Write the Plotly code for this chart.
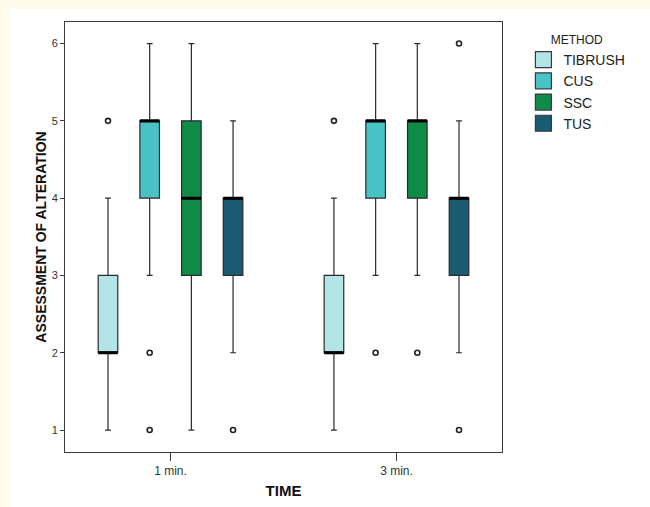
import plotly.graph_objects as go

# ---- data ----
times = ["1 min.", "3 min."]
methods = ["TIBRUSH", "CUS", "SSC", "TUS"]
colors = ["#b3e5e6", "#48c2c7", "#0f8b48", "#1b5b72"]

# one list per method, values for [1 min., 3 min.]
q1_vals = [[2, 2], [4, 4], [3, 4], [3, 3]]
median_vals = [[2, 2], [5, 5], [4, 5], [4, 4]]
q3_vals = [[3, 3], [5, 5], [5, 5], [4, 4]]
lower_vals = [[1, 1], [3, 3], [1, 3], [2, 2]]
upper_vals = [[4, 4], [6, 6], [6, 6], [5, 5]]

# outliers per method: (time, value)
outlier_times = [["1 min.", "3 min."],
                 ["1 min.", "1 min.", "3 min."],
                 ["3 min."],
                 ["1 min.", "3 min.", "3 min."]]
outlier_vals = [[5, 5],
                [2, 1, 2],
                [2],
                [1, 6, 1]]

y_ticks = [1, 2, 3, 4, 5, 6]

FONT = "Liberation Sans, Arial, sans-serif"
CREAM = "#fffbea"

fig = go.Figure()

for i, m in enumerate(methods):
    # main box
    fig.add_trace(go.Box(
        x=times, q1=q1_vals[i], median=median_vals[i], q3=q3_vals[i],
        lowerfence=lower_vals[i], upperfence=upper_vals[i],
        name=m, fillcolor=colors[i],
        line=dict(color="#2b2b2b", width=1.2),
        whiskerwidth=0.3, boxpoints=False, hoverinfo="skip",
        offsetgroup=m, alignmentgroup="all", showlegend=False,
    ))
    # thick median line overlay
    fig.add_trace(go.Box(
        x=times, q1=median_vals[i], median=median_vals[i], q3=median_vals[i],
        lowerfence=median_vals[i], upperfence=median_vals[i],
        name=m + " median", fillcolor="rgba(0,0,0,0)",
        line=dict(color="#000000", width=3),
        whiskerwidth=0, boxpoints=False, hoverinfo="skip",
        offsetgroup=m, alignmentgroup="all", showlegend=False,
    ))
    # outliers
    fig.add_trace(go.Scatter(
        x=outlier_times[i], y=outlier_vals[i], mode="markers",
        marker=dict(symbol="circle-open", size=5, color="#222222",
                    line=dict(width=1.6, color="#222222")),
        offsetgroup=m, alignmentgroup="all", showlegend=False,
        hoverinfo="skip",
    ))
    # legend entry
    fig.add_trace(go.Scatter(
        x=[None], y=[None], mode="markers", name=m,
        marker=dict(symbol="square", size=16, color=colors[i],
                    line=dict(width=1.2, color="#3a3a3a")),
        showlegend=True,
    ))

fig.update_layout(
    width=650, height=507,
    margin=dict(l=65, r=148, t=22, b=55, autoexpand=False),
    paper_bgcolor="white",
    plot_bgcolor="white",
    boxmode="group", boxgap=0.262, boxgroupgap=0.53,
    scattermode="group", scattergap=0.262,
    font=dict(family=FONT, color="#222222"),
    legend=dict(
        x=1.049, y=0.985, xanchor="left", yanchor="top",
        title=dict(text="METHOD", side="top center",
                   font=dict(size=12, color="#222222")),
        font=dict(size=14, color="#222222"),
        tracegroupgap=0, itemwidth=30,
        bgcolor="rgba(0,0,0,0)",
    ),
    # cream page border on the left and top edges
    shapes=[
        dict(type="rect", xref="paper", yref="paper",
             x0=-0.2, x1=-0.1259, y0=-0.2, y1=1.2,
             fillcolor=CREAM, line=dict(width=0), layer="below"),
        dict(type="rect", xref="paper", yref="paper",
             x0=-0.2, x1=1.6, y0=1.0302, y1=1.2,
             fillcolor=CREAM, line=dict(width=0), layer="below"),
    ],
)

fig.update_xaxes(
    type="category", categoryorder="array", categoryarray=times,
    range=[-0.467, 1.467], automargin=False,
    showline=True, mirror=True, linecolor="#3a3a3a", linewidth=1,
    ticks="outside", ticklen=8, tickcolor="#3a3a3a",
    tickfont=dict(size=12, color="#333333"),
    showgrid=False, zeroline=False,
    title=dict(text="TIME", font=dict(size=15, color="#111111", weight="bold"),
               standoff=8),
)
fig.update_yaxes(
    range=[0.716, 6.279], automargin=False,
    tickvals=y_ticks, ticktext=[str(v) for v in y_ticks],
    showline=True, mirror=True, linecolor="#3a3a3a", linewidth=1,
    ticks="outside", ticklen=4, tickcolor="#3a3a3a",
    tickfont=dict(size=11, color="#333333"),
    showgrid=False, zeroline=False,
    title=dict(text="ASSESSMENT OF ALTERATION",
               font=dict(size=14, color="#111111", weight="bold"),
               standoff=1),
)

fig.write_html(
    "out.html",
    config={"displayModeBar": False},
    post_script="document.body.style.margin='0';document.body.style.padding='0';"
                "document.body.style.overflow='hidden';",
)
